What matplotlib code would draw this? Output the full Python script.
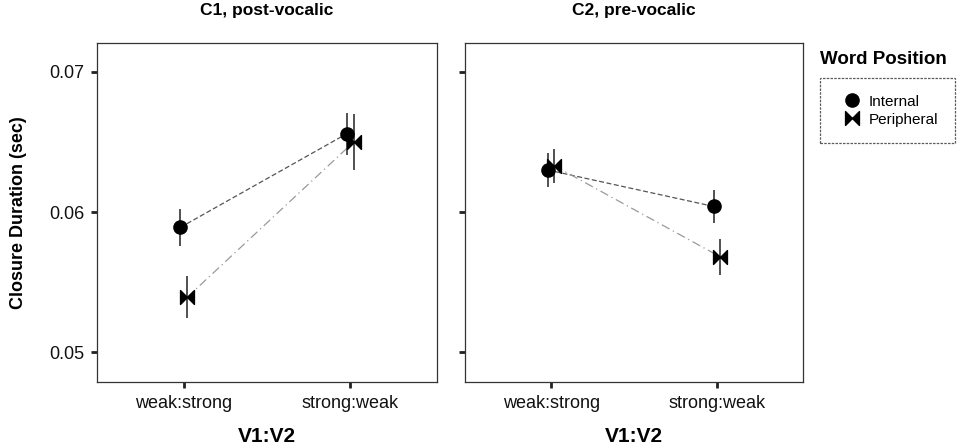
import matplotlib
matplotlib.use('agg')
import matplotlib.pyplot as plt
from matplotlib.path import Path
from matplotlib.lines import Line2D

plt.rcParams['font.family'] = ['Liberation Sans', 'DejaVu Sans']

categories = ['weak:strong', 'strong:weak']
panel_titles = ['C1, post-vocalic', 'C2, pre-vocalic']
groups = ['Internal', 'Peripheral']

c1_internal = [0.0589, 0.0656]
c1_internal_err = [0.0013, 0.0015]
c1_peripheral = [0.0539, 0.0650]
c1_peripheral_err = [0.0015, 0.0020]

c2_internal = [0.0630, 0.0604]
c2_internal_err = [0.0012, 0.0012]
c2_peripheral = [0.0633, 0.0568]
c2_peripheral_err = [0.0012, 0.0013]

yticks = [0.05, 0.06, 0.07]

# bowtie marker (two triangles meeting in the middle)
bowtie = Path([(-1, 1), (0, 0), (1, 1), (1, -1), (0, 0), (-1, -1), (-1, 1)],
              [Path.MOVETO, Path.LINETO, Path.LINETO, Path.LINETO,
               Path.LINETO, Path.LINETO, Path.CLOSEPOLY])

styles = {
    'Internal': dict(marker='o', ms=9.5, line=dict(color='#555555', ls=(0, (4, 2)), lw=0.9), dx=-0.02),
    'Peripheral': dict(marker=bowtie, ms=10, line=dict(color='#9a9a9a', ls=(0, (7, 3, 1, 3)), lw=0.9), dx=0.02),
}

fig = plt.figure(figsize=(9.61, 4.47), dpi=100)
ax1 = fig.add_axes([97 / 961, 65 / 447, 340 / 961, 339 / 447])
ax2 = fig.add_axes([465 / 961, 65 / 447, 338 / 961, 339 / 447])

panels = [
    (ax1, {'Internal': (c1_internal, c1_internal_err), 'Peripheral': (c1_peripheral, c1_peripheral_err)}),
    (ax2, {'Internal': (c2_internal, c2_internal_err), 'Peripheral': (c2_peripheral, c2_peripheral_err)}),
]

x = [0, 1]
for i, (ax, data) in enumerate(panels):
    for g in groups:
        vals, err = data[g]
        st = styles[g]
        xs = [v + st['dx'] for v in x]
        ax.plot(xs, vals, color=st['line']['color'], linestyle=st['line']['ls'],
                linewidth=st['line']['lw'], zorder=1)
        ax.errorbar(xs, vals, yerr=err, fmt='none', ecolor='#222222', elinewidth=1.1,
                    capsize=0, zorder=2, linestyle=':')
        ax.plot(xs, vals, linestyle='none', marker=st['marker'], markersize=st['ms'],
                color='black', zorder=3, label=g)
    ax.set_xlim(-0.52, 1.52)
    ax.set_ylim(0.04786, 0.07207)
    ax.set_xticks(x)
    ax.set_xticklabels(categories, fontsize=13, color='#111111')
    ax.set_yticks(yticks)
    if i == 0:
        ax.set_yticklabels(['%.2f' % t for t in yticks], fontsize=13, color='#111111')
        ax.set_ylabel('Closure Duration (sec)', fontsize=13, fontweight='bold', labelpad=16)
    else:
        ax.set_yticklabels([])
    ax.set_xlabel('V1:V2', fontsize=15, fontweight='bold', labelpad=11)
    ax.set_title(panel_titles[i], fontsize=12.5, fontweight='bold', pad=20)
    ax.tick_params(axis='both', length=4, width=2, color='#222222', pad=5)
    for sp in ax.spines.values():
        sp.set_linestyle((0, (2, 1)))
        sp.set_linewidth(0.9)
        sp.set_color('#333333')

fig.text(820 / 961, 1 - 60 / 447, 'Word Position', fontsize=13.5, fontweight='bold',
         va='center', ha='left')
handles = [Line2D([], [], linestyle='none', marker=styles[g]['marker'],
                  markersize=styles[g]['ms'], color='black') for g in groups]
leg = fig.legend(handles, groups, loc='upper left', bbox_to_anchor=(820 / 961, 1 - 78 / 447),
                 fontsize=11, frameon=True, fancybox=False, borderpad=1.1,
                 handletextpad=0.1, labelspacing=0.25, handlelength=2.0, borderaxespad=0)
frame = leg.get_frame()
frame.set_linestyle((0, (2, 1)))
frame.set_linewidth(0.9)
frame.set_edgecolor('#333333')

fig.savefig('out.png', dpi=100)
